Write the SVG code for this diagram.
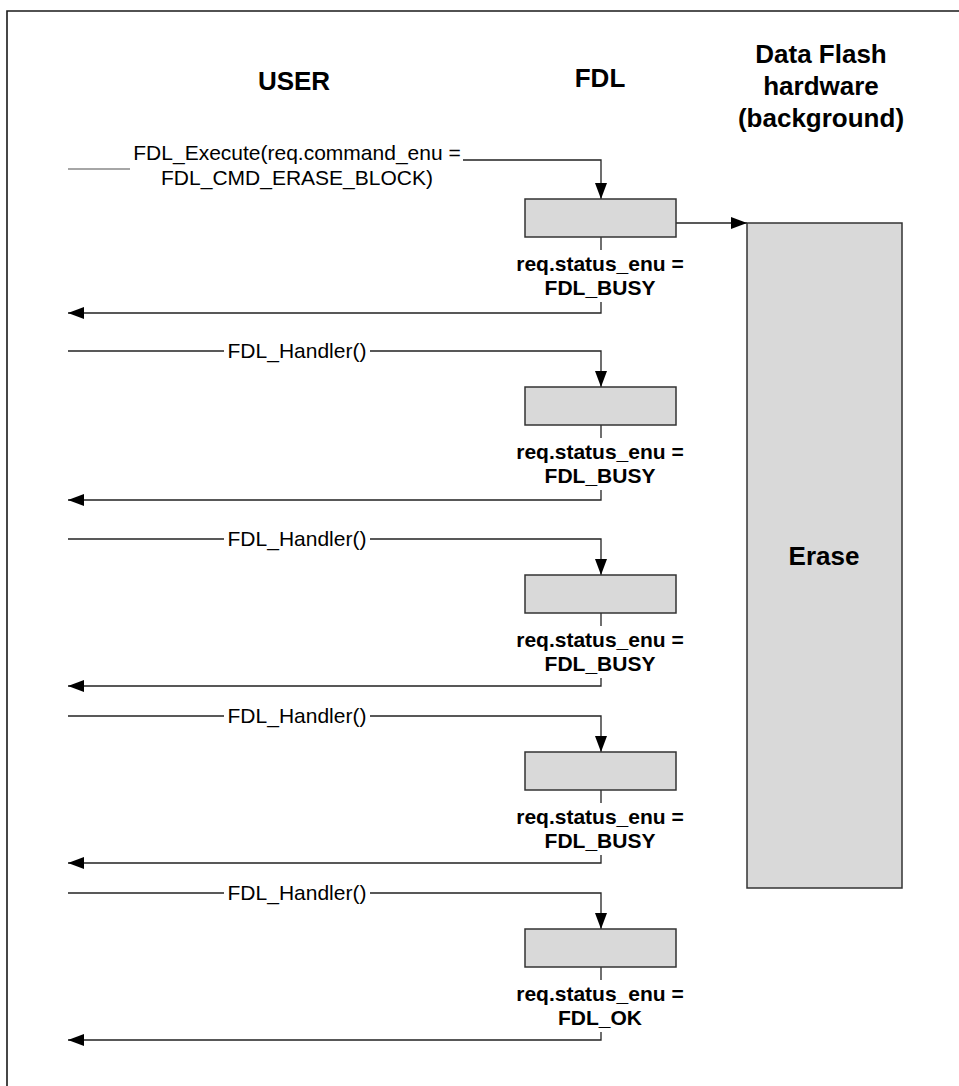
<svg xmlns="http://www.w3.org/2000/svg" width="959" height="1086" viewBox="0 0 959 1086">
<style>
.hdr{font-family:"Liberation Sans",Arial,sans-serif;font-weight:bold;font-size:26px;fill:#000;text-anchor:middle}
.msg{font-family:"Liberation Sans",Arial,sans-serif;font-size:21px;fill:#000;text-anchor:middle}
.st{font-family:"Liberation Sans",Arial,sans-serif;font-weight:bold;font-size:21px;fill:#000;text-anchor:middle}
.box{fill:#d9d9d9;stroke:#333;stroke-width:1.5}
.ln{fill:none;stroke:#222;stroke-width:1.3}
.arr{fill:none;stroke:#222;stroke-width:1.3;marker-end:url(#ah)}
</style>
<defs>
<marker id="ah" markerUnits="userSpaceOnUse" markerWidth="16" markerHeight="12" refX="16" refY="6" orient="auto">
<path d="M0,0 L16,6 L0,12 z" fill="#000"/>
</marker>
</defs>
<rect width="959" height="1086" fill="#fff"/>
<path d="M7,1086 V11 H959" fill="none" stroke="#1a1a1a" stroke-width="1.6"/>
<g id="headers">
<text class="hdr" x="294" y="90">USER</text>
<text class="hdr" x="600" y="87">FDL</text>
<text class="hdr" x="821" y="63">Data Flash</text>
<text class="hdr" x="821" y="95">hardware</text>
<text class="hdr" x="821" y="127">(background)</text>
</g>
<g id="connectors">
<line x1="68" y1="169" x2="130" y2="169" stroke="#888" stroke-width="1.5"/>
<path class="arr" d="M463,160 H601 V199"/>
<path class="arr" d="M676,223 H747"/>
<path class="ln" d="M601,237 V250"/>
<path class="arr" d="M601,302 V313 H68"/>
<path class="ln" d="M68,351 H224"/>
<path class="arr" d="M370,351 H601 V387"/>
<path class="ln" d="M601,425 V438"/>
<path class="arr" d="M601,490 V500 H68"/>
<path class="ln" d="M68,539 H224"/>
<path class="arr" d="M370,539 H601 V575"/>
<path class="ln" d="M601,613 V626"/>
<path class="arr" d="M601,678 V686 H68"/>
<path class="ln" d="M68,716 H224"/>
<path class="arr" d="M370,716 H601 V752"/>
<path class="ln" d="M601,790 V803"/>
<path class="arr" d="M601,855 V863 H68"/>
<path class="ln" d="M68,893 H224"/>
<path class="arr" d="M370,893 H601 V929"/>
<path class="ln" d="M601,967 V980"/>
<path class="arr" d="M601,1032 V1040 H68"/>
</g>
<g id="msg1">
<text class="msg" x="297" y="160">FDL_Execute(req.command_enu =</text>
<text class="msg" x="297" y="185">FDL_CMD_ERASE_BLOCK)</text>
</g>
<g id="msg2"><text class="msg" x="297" y="358">FDL_Handler()</text></g>
<g id="msg3"><text class="msg" x="297" y="546">FDL_Handler()</text></g>
<g id="msg4"><text class="msg" x="297" y="723">FDL_Handler()</text></g>
<g id="msg5"><text class="msg" x="297" y="900">FDL_Handler()</text></g>
<g id="fdl1">
<rect class="box" x="525" y="199" width="151" height="38"/>
<text class="st" x="600" y="271">req.status_enu =</text>
<text class="st" x="600" y="295">FDL_BUSY</text>
</g>
<g id="fdl2">
<rect class="box" x="525" y="387" width="151" height="38"/>
<text class="st" x="600" y="459">req.status_enu =</text>
<text class="st" x="600" y="483">FDL_BUSY</text>
</g>
<g id="fdl3">
<rect class="box" x="525" y="575" width="151" height="38"/>
<text class="st" x="600" y="647">req.status_enu =</text>
<text class="st" x="600" y="671">FDL_BUSY</text>
</g>
<g id="fdl4">
<rect class="box" x="525" y="752" width="151" height="38"/>
<text class="st" x="600" y="824">req.status_enu =</text>
<text class="st" x="600" y="848">FDL_BUSY</text>
</g>
<g id="fdl5">
<rect class="box" x="525" y="929" width="151" height="38"/>
<text class="st" x="600" y="1001">req.status_enu =</text>
<text class="st" x="600" y="1025">FDL_OK</text>
</g>
<g id="erase">
<rect class="box" x="747" y="223" width="155" height="665"/>
<text class="hdr" x="824" y="565">Erase</text>
</g>
</svg>
